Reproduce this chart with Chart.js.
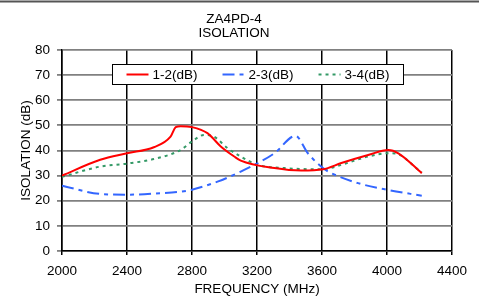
<!doctype html>
<html lang="en">
<head>
  <meta charset="UTF-8">
  <title>ZA4PD-4 Isolation</title>
  <style>
    html, body { margin: 0; padding: 0; background: #fff; }
    #wrap { width: 479px; height: 297px; }
  </style>
</head>
<body>
  <div id="wrap"><canvas id="datavis" width="479" height="297"></canvas></div>

  <script src="https://cdn.jsdelivr.net/npm/chart.js@4/dist/chart.umd.min.js"></script>
  <script>
    // values
    const freq12 = [2000, 2235, 2400, 2565, 2668, 2700, 2730, 2800, 2895, 2977, 3060, 3100, 3307, 3472, 3606, 3719, 3884, 4008, 4070, 4214];
    const iso12 = [30, 36.3, 38.9, 41.3, 45.5, 49.3, 49.7, 49.3, 46.9, 41.6, 37.6, 36, 33, 32, 32.5, 35, 38.2, 40.2, 38.9, 31];

    const freq23 = [2000, 2235, 2400, 2606, 2730, 2800, 2957, 3100, 3307, 3437, 3513, 3606, 3657, 3822, 4008, 4214];
    const iso23 = [26, 22.7, 22.4, 23, 23.6, 24.4, 27.6, 31.6, 38.9, 45.8, 38.9, 33, 31, 27, 24.3, 22];

    const freq34 = [2000, 2235, 2400, 2565, 2730, 2800, 2874, 2936, 3019, 3100, 3204, 3369, 3606, 3719, 3884, 4008, 4050, 4214];
    const iso34 = [29.5, 33.6, 34.8, 36.6, 40.2, 43.6, 46.2, 45.5, 40.9, 37.6, 34.3, 33, 32.5, 34.3, 37.6, 38.9, 38.8, 31.2];

    const seriesNames = ['1-2(dB)', '2-3(dB)', '3-4(dB)'];
    const xTicks = [2000, 2400, 2800, 3200, 3600, 4000, 4400];
    const yTicks = [0, 10, 20, 30, 40, 50, 60, 70, 80];

    const font = 'Liberation Sans, Arial, sans-serif';
    const fontSize = 13.5;

    function pts(xs, ys) {
      return xs.map((x, i) => ({ x: x, y: ys[i] }));
    }

    // frame line at the top of the picture, and a boxed legend inside the plot
    const extras = {
      id: 'extras',
      beforeDraw(chart) {
        const ctx = chart.ctx;
        ctx.save();
        ctx.strokeStyle = '#555';
        ctx.lineWidth = 2;
        ctx.beginPath();
        ctx.moveTo(0, 1.5);
        ctx.lineTo(chart.width, 1.5);
        ctx.stroke();
        ctx.restore();
      },
      afterDatasetsDraw(chart) {
        const ctx = chart.ctx;
        const area = chart.chartArea;
        const sets = chart.data.datasets;
        const lineLen = 22, textGap = 4, itemGap = 25, pad = 14;
        ctx.save();
        ctx.font = fontSize + 'px ' + font;
        const widths = sets.map(d => ctx.measureText(d.label).width);
        const total = widths.reduce((a, w) => a + lineLen + textGap + w, 0) + itemGap * (sets.length - 1);
        const boxW = Math.round(total + pad * 2);
        const boxH = 20;
        const left = Math.round((area.left + area.right) / 2 - boxW / 2) + 0.5;
        const top = Math.round(area.top + 14) + 0.5;
        ctx.fillStyle = '#fff';
        ctx.fillRect(left, top, boxW, boxH);
        ctx.strokeStyle = '#000';
        ctx.lineWidth = 1;
        ctx.strokeRect(left, top, boxW, boxH);
        let x = left + pad;
        const midY = top + boxH / 2;
        sets.forEach((d, i) => {
          ctx.strokeStyle = d.borderColor;
          ctx.lineWidth = d.borderWidth;
          ctx.setLineDash(d.borderDash);
          ctx.beginPath();
          ctx.moveTo(x, midY);
          ctx.lineTo(x + lineLen, midY);
          ctx.stroke();
          ctx.setLineDash([]);
          ctx.fillStyle = '#000';
          ctx.textBaseline = 'middle';
          ctx.fillText(d.label, x + lineLen + textGap, midY + 1);
          x += lineLen + textGap + widths[i] + itemGap;
        });
        ctx.restore();
      }
    };

    const datasets = [
      { label: seriesNames[0], data: pts(freq12, iso12), borderColor: '#ff0000', borderWidth: 2, borderDash: [] },
      { label: seriesNames[1], data: pts(freq23, iso23), borderColor: '#3366ff', borderWidth: 2, borderDash: [12, 5, 4, 5] },
      { label: seriesNames[2], data: pts(freq34, iso34), borderColor: '#339966', borderWidth: 2, borderDash: [3, 4] }
    ].map(d => Object.assign(d, { pointRadius: 0, fill: false, cubicInterpolationMode: 'monotone', backgroundColor: d.borderColor }));

    new Chart('datavis', {
      type: 'line',
      data: { datasets: datasets },
      plugins: [extras],
      options: {
        responsive: false,
        animation: false,
        layout: { padding: { top: 0, right: 27, bottom: 0, left: 16 } },
        plugins: {
          title: {
            display: true,
            text: ['ZA4PD-4', 'ISOLATION'],
            color: '#000',
            font: { family: font, size: fontSize, weight: 'normal', lineHeight: 1.0 },
            padding: { top: 13, bottom: 10 },
            align: 'center'
          },
          legend: { display: false },
          tooltip: { enabled: false }
        },
        scales: {
          x: {
            type: 'linear',
            min: 2000, max: 4400,
            afterBuildTicks: s => { s.ticks = xTicks.map(v => ({ value: v })); },
            afterFit: s => { s.height = 46; },
            ticks: { color: '#000', font: { family: font, size: fontSize }, padding: 8, maxRotation: 0, callback: v => String(v) },
            grid: { color: '#000', lineWidth: 1.5, tickLength: 4 },
            border: { color: '#000', width: 1.5 },
            title: { display: true, text: 'FREQUENCY (MHz)', color: '#000', font: { family: font, size: fontSize }, padding: { top: 0, bottom: 0 } }
          },
          y: {
            min: 0, max: 80,
            afterBuildTicks: s => { s.ticks = yTicks.map(v => ({ value: v })); },
            afterFit: s => { s.width = 46; },
            ticks: { color: '#000', font: { family: font, size: fontSize }, padding: 7, callback: v => String(v) },
            grid: { color: '#808080', lineWidth: 1.8, tickLength: 5 },
            border: { color: '#000', width: 1.5 },
            title: { display: true, text: 'ISOLATION (dB)', color: '#000', font: { family: font, size: fontSize }, padding: { top: 2, bottom: 0 } }
          }
        }
      }
    });
  </script>
</body>
</html>
